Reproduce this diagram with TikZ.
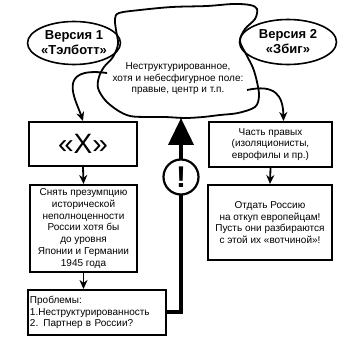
\documentclass[tikz,border=0pt]{standalone}
\usepackage{fontspec}
\setmainfont{Liberation Sans}
\usetikzlibrary{arrows.meta,shapes.geometric}

\tikzset{
  blk/.style={draw, rectangle, line width=2pt, inner sep=2pt,
    font=\fontsize{10}{11.7}\selectfont, align=center},
  vers/.style={draw, ellipse, line width=1.6pt, inner sep=0pt,
    font=\fontsize{13}{15}\selectfont\bfseries, align=center},
  con/.style={line width=1.8pt, -{Stealth[length=9pt,width=8pt]}},
}

\begin{document}
\begin{tikzpicture}[x=1pt,y=-1pt]
\useasboundingbox (0,0) rectangle (360,342);
% cloud
\draw[line width=1.8pt] plot[smooth cycle, tension=0.55] coordinates {
  (119,13) (140,10) (172,7) (207,6) (233,4) (250,5) (257,9) (255,19)
  (245,29) (240,41) (246,54) (253,68) (257,82) (259,96) (255,107)
  (238,113) (220,115) (203,117) (185,118) (165,117) (147,117) (130,116)
  (117,110) (105,100) (98,88) (99,77) (104,67) (113,57) (118,44)
  (116,30) (115,19)};
\node[font=\fontsize{10}{11.5}\selectfont, align=center] (field) at (178,79)
  {Неструктурированное,\\хотя и небесфигурное поле:\\правые, центр и т.п.};
\coordinate (cloudL) at (107,73);
\coordinate (cloudR) at (247,90);
\coordinate (cloudB) at (181,118);

\node[vers, minimum width=92pt, minimum height=43pt] (talbott) at (74,43)
  {Версия 1\\«Тэлботт»};
\node[vers, minimum width=97pt, minimum height=45pt] (zbig) at (288,42)
  {Версия 2\\«Збиг»};

% left column
\node[blk, minimum width=108pt, minimum height=44pt,
  font=\fontsize{28}{28}\selectfont] (xbox) at (83,144) {«X»};
\node[blk, minimum width=107pt, minimum height=87pt] (shift) at (83.5,228.5)
  {Снять презумпцию\\исторической\\неполноценности\\России хотя бы\\до уровня\\Японии и Германии\\1945 года};
\node[blk, text width=134pt, minimum height=45pt, align=left] (probl) at (97,312.5)
  {Проблемы:\\1.Неструктурированность\\2. Партнер в России?};

% right column
\node[blk, minimum width=123pt, minimum height=45pt] (part) at (270.5,144.5)
  {Часть правых\\(изоляционисты,\\еврофилы и пр.)};
\node[blk, minimum width=124pt, minimum height=75pt] (give) at (270,222.5)
  {Отдать Россию\\на откуп европейцам!\\Пусть они разбираются\\с этой их «вотчиной»!};

\draw[con] (cloudL) .. controls (55,66) and (76,100) .. (xbox.north);
\draw[con] (xbox.south) -- (shift.north);
\draw[con] (shift.south) -- (probl.north -| shift.south);
\draw[con] (cloudR) .. controls (275,84) and (283,95) .. ([xshift=13pt]part.north);
\draw[con] (part.south) -- (give.north);

\draw[line width=4pt, -{Triangle[length=27pt,width=25pt]}] (probl.east) -| (cloudB);
\node[circle, draw, line width=2.2pt, fill=white, minimum size=35pt, inner sep=0pt,
  font=\fontsize{30}{30}\selectfont\bfseries] (warn) at (181,177) {!};
\end{tikzpicture}
\end{document}
